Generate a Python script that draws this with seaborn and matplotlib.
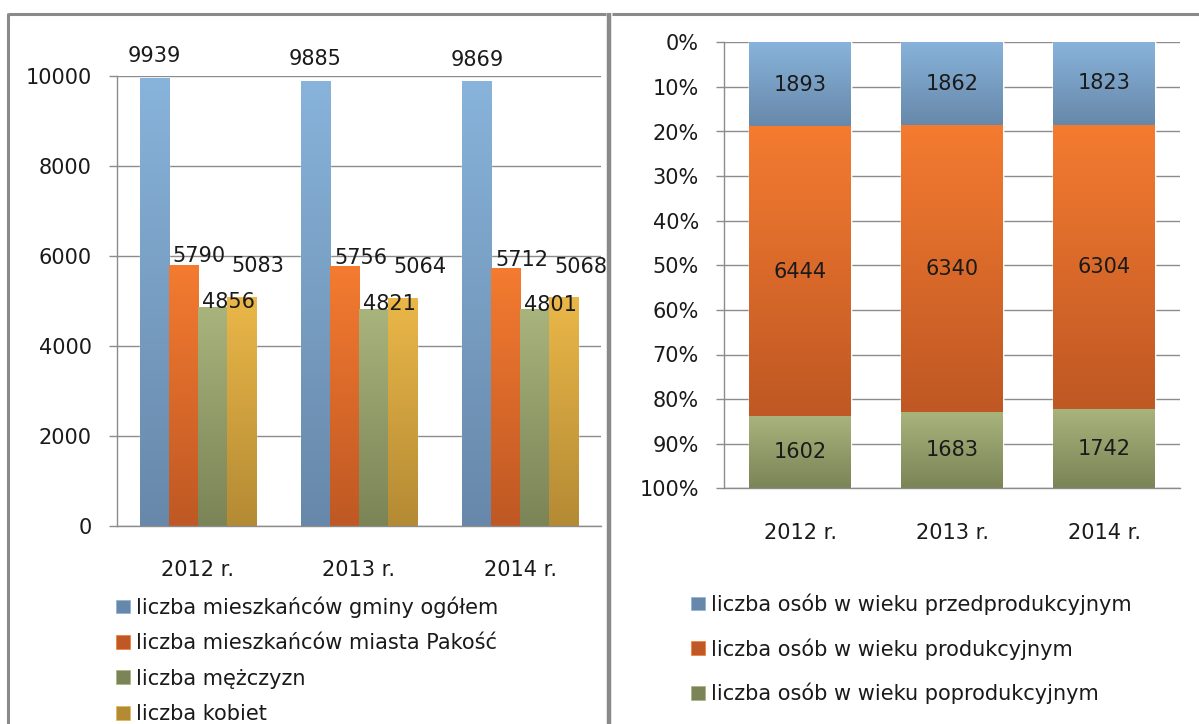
import numpy as np
import pandas as pd
import matplotlib
matplotlib.use("Agg")
import matplotlib.pyplot as plt
import seaborn as sns
from matplotlib.colors import LinearSegmentedColormap
from matplotlib.lines import Line2D
from matplotlib.patches import Patch
from matplotlib.ticker import FixedLocator

# --- data ---------------------------------------------------------------
years = ["2012 r.", "2013 r.", "2014 r."]

# left chart: residents
gmina_ogolem = [9939, 9885, 9869]
miasto_pakosc = [5790, 5756, 5712]
mezczyzni = [4856, 4821, 4801]
kobiety = [5083, 5064, 5068]
left_names = ["liczba mieszkańców gminy ogółem",
              "liczba mieszkańców miasta Pakość",
              "liczba mężczyzn",
              "liczba kobiet"]

# right chart: age groups
przedprod = [1893, 1862, 1823]
prod = [6444, 6340, 6304]
poprod = [1602, 1683, 1742]
right_names = ["liczba osób w wieku przedprodukcyjnym",
               "liczba osób w wieku produkcyjnym",
               "liczba osób w wieku poprodukcyjnym"]

# --- style --------------------------------------------------------------
# (top colour, bottom colour) of each bar gradient
blue = ("#88b3da", "#6788aa")
orange = ("#f47b30", "#bf5824")
green = ("#a9b37c", "#7a8456")
yellow = ("#eab748", "#b48a34")
left_grad = [blue, orange, green, yellow]
right_grad = [blue, orange, green]

# excel-ish placement of the value labels (pixels right / up from bar top)
label_dx = [0, 16, 16, 17]
label_dy = [22, 9, 5, 31]

grid_col = "#8c8c8c"
frame_col = "#8a8a8a"
fs = 15

sns.set_theme(style="white")
plt.rcParams["font.family"] = ["DejaVu Sans"]
plt.rcParams["text.color"] = "#1a1a1a"
plt.rcParams["xtick.color"] = grid_col
plt.rcParams["ytick.color"] = grid_col
plt.rcParams["xtick.labelcolor"] = "#1a1a1a"
plt.rcParams["ytick.labelcolor"] = "#1a1a1a"

W, H = 1199, 724
fig = plt.figure(figsize=(W / 100, H / 100), dpi=100)
ax1 = fig.add_axes([117 / W, 1 - 525.7 / H, 484 / W, 450 / H])
ax2 = fig.add_axes([724 / W, 1 - 488.3 / H, 456 / W, 446 / H])


def gradient_fill(ax, x0, x1, start, end, colors):
    # vertical gradient, first colour at "start" of the segment
    cmap = LinearSegmentedColormap.from_list("g", list(colors))
    grad = np.linspace(0, 1, 128).reshape(-1, 1)
    ax.imshow(grad, cmap=cmap, aspect="auto", origin="upper",
              extent=(x0, x1, end, start), zorder=2, interpolation="bicubic")


def style_axis(ax):
    ax.set_axisbelow(True)
    ax.grid(axis="y", color=grid_col, lw=1)
    ax.grid(axis="x", visible=False)
    for s in ["top", "right"]:
        ax.spines[s].set_visible(False)
    for s in ["left", "bottom"]:
        ax.spines[s].set_color(grid_col)
        ax.spines[s].set_linewidth(1)
    ax.set_xlabel("")
    ax.set_ylabel("")
    ax.set_xlim(-0.5, 2.5)
    ax.xaxis.set_minor_locator(FixedLocator([-0.5, 0.5, 1.5, 2.5]))
    ax.tick_params(axis="x", which="major", length=0, pad=25, labelsize=fs)
    ax.tick_params(axis="x", which="minor", length=7, width=1, direction="out")
    ax.tick_params(axis="y", length=6, width=1, pad=12, labelsize=fs, left=True)


# --- left: grouped bars -------------------------------------------------
left_series = [gmina_ogolem, miasto_pakosc, mezczyzni, kobiety]
df_left = pd.DataFrame({
    "rok": years * len(left_series),
    "seria": np.repeat(left_names, len(years)),
    "wartosc": np.concatenate(left_series),
})
sns.barplot(data=df_left, x="rok", y="wartosc", hue="seria",
            palette=[c[0] for c in left_grad], width=0.72, gap=0,
            saturation=1, legend=False, ax=ax1)

for i, cont in enumerate(ax1.containers):
    for bar in cont:
        x0 = bar.get_x()
        x1 = x0 + bar.get_width()
        h = bar.get_height()
        gradient_fill(ax1, x0, x1, h, 0, left_grad[i])
        ax1.annotate(f"{h:.0f}", (x0 + bar.get_width() / 2, h),
                     xytext=(label_dx[i] * 0.72, label_dy[i] * 0.72),
                     textcoords="offset points", ha="center", va="center",
                     fontsize=fs, zorder=5)

style_axis(ax1)
ax1.set_ylim(0, 10000)
ax1.set_yticks(range(0, 10001, 2000))

ax1.legend(handles=[Patch(facecolor=c[1], edgecolor=c[0], lw=0.5) for c in left_grad],
           labels=left_names, loc="upper left", bbox_transform=fig.transFigure,
           bbox_to_anchor=(108 / W, 1 - 588 / H), frameon=False, fontsize=fs,
           handlelength=0.65, handleheight=0.65, handletextpad=0.3,
           labelspacing=0.74, borderaxespad=0)

# --- right: 100% stacked bars (0% at top) -------------------------------
right_series = [przedprod, prod, poprod]
totals = np.sum(right_series, axis=0)
shares = [np.array(s) / totals * 100 for s in right_series]
cum = np.cumsum(shares, axis=0)

# draw the cumulative layers from the longest one so each shows its segment
for k in range(len(right_series) - 1, -1, -1):
    df_r = pd.DataFrame({"rok": years, "udzial": cum[k]})
    sns.barplot(data=df_r, x="rok", y="udzial", color=right_grad[k][0],
                width=0.665, saturation=1, ax=ax2)

bar_w = 0.665
for k, s in enumerate(right_series):
    for j in range(len(years)):
        start = 0 if k == 0 else cum[k - 1][j]
        end = cum[k][j]
        gradient_fill(ax2, j - bar_w / 2, j + bar_w / 2, start, end, right_grad[k])
        ax2.text(j, (start + end) / 2, f"{s[j]}", ha="center", va="center",
                 fontsize=fs, zorder=5)

style_axis(ax2)
ax2.set_ylim(100, 0)
ax2.set_yticks(range(0, 101, 10))
ax2.set_yticklabels([f"{v}%" for v in range(0, 101, 10)])

ax2.legend(handles=[Patch(facecolor=c[1], edgecolor=c[0], lw=0.5) for c in right_grad],
           labels=right_names, loc="upper left", bbox_transform=fig.transFigure,
           bbox_to_anchor=(683 / W, 1 - 585 / H), frameon=False, fontsize=fs,
           handlelength=0.65, handleheight=0.65, handletextpad=0.3,
           labelspacing=1.12, borderaxespad=0)

# --- outer frames -------------------------------------------------------
def fline(xs, ys, lw):
    fig.add_artist(Line2D([x / W for x in xs], [1 - y / H for y in ys],
                          color=frame_col, lw=lw, solid_capstyle="butt"))

fline([8, 606], [13.5, 13.5], 2.2)
fline([8, 8], [13, H], 2.2)
fline([612, W], [13.5, 13.5], 2.2)
fline([609, 609], [13, H], 3.2)

fig.savefig("out.png", dpi=100)
